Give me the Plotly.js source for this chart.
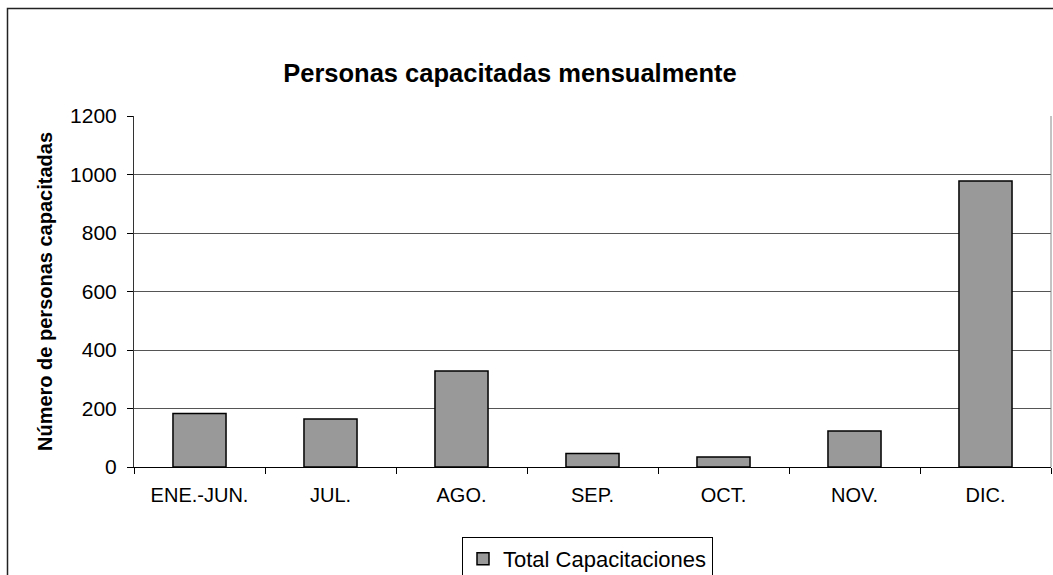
<!DOCTYPE html>
<html>
<head>
<meta charset="utf-8">
<script src="https://cdn.plot.ly/plotly-3.0.1.min.js"></script>
<style>html,body{margin:0;padding:0;background:#fff;}#chart{width:1053px;height:575px;}</style>
</head>
<body>
<div id="chart"></div>
<script>
const categories = ["ENE.-JUN.", "JUL.", "AGO.", "SEP.", "OCT.", "NOV.", "DIC."];
const totalCapacitaciones = [183, 164, 328, 46, 34, 123, 978];
const seriesName = "Total Capacitaciones";
const yTicks = [0, 200, 400, 600, 800, 1000, 1200];

const L = 134, R = 2, T = 116, B = 108, W = 1053, H = 575;
const pw = W - L - R, ph = H - T - B;
const px = v => (v - L) / pw;
const py = v => (H - B - v) / ph;

const trace = {
  type: 'bar',
  x: categories,
  y: totalCapacitaciones,
  name: seriesName,
  marker: {color: '#999999', line: {color: '#000000', width: 1.5}},
  showlegend: true
};

const layout = {
  width: W, height: H,
  margin: {l: L, r: R, t: T, b: B, pad: 0},
  paper_bgcolor: '#ffffff',
  plot_bgcolor: '#ffffff',
  font: {family: '"Liberation Sans", Arial, sans-serif', color: '#000', size: 20},
  title: {
    text: '<b>Personas capacitadas mensualmente</b>',
    font: {size: 25.5, family: '"Liberation Sans", Arial, sans-serif', color: '#000'},
    xref: 'container', x: 510 / W, xanchor: 'center',
    yref: 'container', y: 1 - 73 / H, yanchor: 'middle'
  },
  bargap: 0.595,
  xaxis: {
    type: 'category',
    showline: true, linecolor: '#000', linewidth: 1,
    ticks: 'outside', ticklen: 6, tickcolor: '#000', tickwidth: 1,
    tickson: 'boundaries',
    ticklabelstandoff: 10,
    tickfont: {size: 20},
    showgrid: false,
    automargin: false,
    fixedrange: true
  },
  yaxis: {
    range: [0, 1200],
    tickvals: yTicks,
    ticktext: yTicks.map(String),
    showline: true, linecolor: '#333', linewidth: 1,
    ticks: 'outside', ticklen: 6, tickcolor: '#000', tickwidth: 1,
    ticklabelstandoff: 6,
    tickfont: {size: 21},
    showgrid: true, gridcolor: '#555', gridwidth: 1,
    zeroline: false,
    title: {text: '<b>Número de personas capacitadas</b>', font: {size: 20}, standoff: 12},
    automargin: false,
    fixedrange: true
  },
  legend: {
    xref: 'container', x: 462 / W, xanchor: 'left',
    yref: 'container', y: 1 - 537 / H, yanchor: 'top',
    orientation: 'h',
    bordercolor: '#000', borderwidth: 1,
    bgcolor: '#fff',
    font: {size: 22},
    itemwidth: 30
  },
  shapes: [
    {type: 'line', xref: 'paper', yref: 'paper', x0: 1, x1: 1, y0: 0, y1: 1, line: {color: '#888', width: 1}},
    {type: 'rect', xref: 'paper', yref: 'paper', x0: px(7.5), x1: px(1060), y0: py(590), y1: py(8.5), line: {color: '#222', width: 1.5}, fillcolor: 'rgba(0,0,0,0)', layer: 'above'}
  ]
};

Plotly.newPlot('chart', [trace], layout, {staticPlot: true, displayModeBar: false});
</script>
</body>
</html>
